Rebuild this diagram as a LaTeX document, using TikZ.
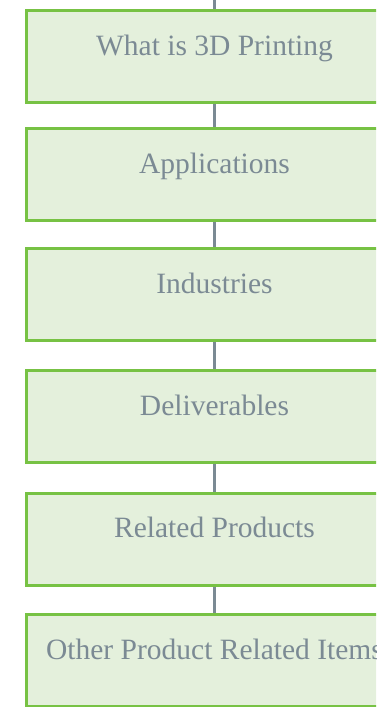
\documentclass[tikz,border=0pt]{standalone}
\usepackage{fontspec}
\setmainfont{Liberation Serif}
\definecolor{boxgreen}{HTML}{77C244}
\definecolor{boxfill}{HTML}{E4F0DC}
\definecolor{slate}{HTML}{7B8A94}

\begin{document}
\begin{tikzpicture}[x=1pt,y=-1pt,
    topic/.style={draw=boxgreen, fill=boxfill, line width=3pt, inner sep=0pt,
        minimum width=376pt, minimum height=92pt, text height=44.5pt, text depth=47.5pt,
        text=slate, font=\fontsize{29.5}{32}\selectfont},
    link/.style={draw=slate, line width=3pt}]
    \useasboundingbox (0,0) rectangle (376,707);
    \clip (0,0) rectangle (376,707);

    \coordinate (top) at (214.5,0);

    \node[topic] (what) at (214.5,56.75) {What is 3D Printing};
    \node[topic] (apps) at (214.5,174.5) {Applications};
    \node[topic] (ind) at (214.5,294.5) {Industries};
    \node[topic] (deliv) at (214.5,416.5) {Deliverables};
    \node[topic] (rel) at (214.5,539) {Related Products};
    \node[topic] (other) at (214.5,660.5) {Other Product Related Items};

    \draw[link] (top) -- (what);
    \draw[link] (what) -- (apps);
    \draw[link] (apps) -- (ind);
    \draw[link] (ind) -- (deliv);
    \draw[link] (deliv) -- (rel);
    \draw[link] (rel) -- (other);

\end{tikzpicture}
\end{document}
